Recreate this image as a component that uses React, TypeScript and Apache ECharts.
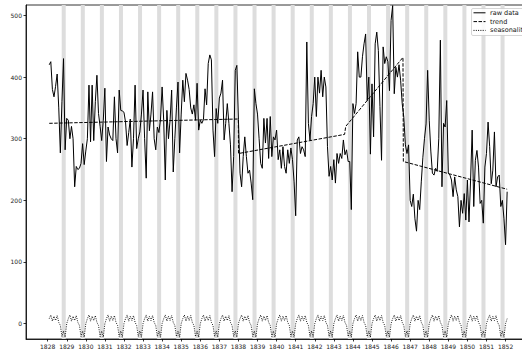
import React, { useEffect, useRef } from "react";
import * as echarts from "echarts";

// monthly observations, first point at START_YEAR, one step per month
const START_YEAR = 1828.08;
const raw1828 = [420, 425, 380, 368, 385, 405, 350, 277, 360, 430, 282, 333];
const raw1829 = [330, 300, 320, 300, 222, 255, 250, 252, 260, 292, 258, 280];
const raw1830 = [300, 387, 295, 387, 297, 360, 403, 341, 320, 297, 330, 382];
const raw1831 = [263, 319, 306, 300, 297, 368, 300, 277, 379, 346, 345, 343];
const raw1832 = [327, 289, 310, 332, 254, 300, 387, 284, 300, 311, 340, 379];
const raw1833 = [300, 236, 376, 313, 340, 376, 300, 282, 319, 310, 332, 384];
const raw1834 = [330, 233, 346, 300, 330, 379, 246, 300, 350, 392, 277, 340];
const raw1835 = [395, 360, 406, 395, 380, 350, 340, 355, 330, 390, 314, 330];
const raw1836 = [325, 331, 381, 355, 422, 436, 428, 314, 271, 349, 325, 366];
const raw1837 = [374, 395, 298, 325, 357, 325, 290, 214, 271, 411, 419, 331];
const raw1838 = [244, 222, 271, 303, 271, 244, 249, 228, 201, 381, 357, 340];
const raw1839 = [300, 260, 252, 333, 293, 333, 268, 336, 271, 303, 298, 314];
const raw1840 = [266, 282, 252, 287, 255, 244, 282, 260, 285, 266, 230, 175];
const raw1841 = [298, 303, 276, 287, 282, 271, 457, 325, 298, 336, 357, 400];
const raw1842 = [336, 400, 374, 411, 368, 400, 384, 287, 239, 255, 233, 266];
const raw1843 = [228, 276, 260, 276, 268, 298, 274, 282, 263, 263, 185, 357];
const raw1844 = [341, 357, 441, 400, 400, 433, 454, 470, 362, 400, 275, 389];
const raw1845 = [303, 454, 473, 443, 352, 265, 449, 422, 433, 425, 378, 492];
const raw1846 = [516, 373, 416, 400, 420, 395, 357, 335, 290, 276, 290, 200];
const raw1847 = [190, 210, 170, 150, 200, 185, 230, 270, 300, 324, 411, 330];
const raw1848 = [280, 244, 241, 252, 247, 300, 460, 222, 325, 319, 362, 244];
const raw1849 = [241, 233, 206, 238, 217, 206, 157, 200, 179, 211, 168, 233];
const raw1850 = [165, 233, 314, 190, 265, 281, 254, 195, 200, 163, 254, 276];
const raw1851 = [327, 287, 227, 249, 311, 222, 238, 241, 190, 200, 170, 128];
const raw1852 = [214];

const RAW = [
  ...raw1828, ...raw1829, ...raw1830, ...raw1831, ...raw1832, ...raw1833,
  ...raw1834, ...raw1835, ...raw1836, ...raw1837, ...raw1838, ...raw1839,
  ...raw1840, ...raw1841, ...raw1842, ...raw1843, ...raw1844, ...raw1845,
  ...raw1846, ...raw1847, ...raw1848, ...raw1849, ...raw1850, ...raw1851,
  ...raw1852,
];

// yearly seasonal component (one value per month)
const SEASONAL_PATTERN = [8, 14, 4, 12, 5, 13, 2, -3, -21, -12, -22, 0];

// piecewise trend breakpoints
const TREND_X = [1828.08, 1837.99, 1838.0, 1843.56, 1843.62, 1846.62, 1846.64, 1852.08];
const TREND_Y = [325, 332, 276, 307, 320, 432, 263, 218];

const YEAR_TICKS = [
  1828, 1829, 1830, 1831, 1832, 1833, 1834, 1835, 1836, 1837, 1838, 1839, 1840,
  1841, 1842, 1843, 1844, 1845, 1846, 1847, 1848, 1849, 1850, 1851, 1852,
];
const Y_TICKS = [0, 100, 200, 300, 400, 500];

const BAND_YEARS = [
  1828, 1829, 1830, 1831, 1832, 1833, 1834, 1835, 1836, 1837, 1838, 1839,
  1840, 1841, 1842, 1843, 1844, 1845, 1846, 1847, 1848, 1849, 1850, 1851,
];
const BAND_FROM = 0.735;
const BAND_TO = 0.945;

const LEGEND_LABELS = ["raw data", "trend", "seasonality"];

export default function App() {
  const ref = useRef<HTMLDivElement>(null);
  useEffect(() => {
    if (!ref.current) return;
    const chart = echarts.init(ref.current, null, { renderer: "svg" });
    const font = "DejaVu Sans";
    const rawData = RAW.map((v, i) => [START_YEAR + i / 12, v]);
    const seasData = RAW.map((_, i) => [START_YEAR + i / 12, SEASONAL_PATTERN[i % 12]]);
    const trendData = TREND_X.map((x, i) => [x, TREND_Y[i]]);
    const rowsY = [12.8, 21.6, 30.4];
    const dashes: any[] = [null, [3.5, 1.5], [1, 1.3]];
    const graphic: any[] = [
      {
        type: "rect",
        z: 100,
        shape: { x: 471.5, y: 8.5, width: 58, height: 27, r: 1.5 },
        style: { fill: "rgba(255,255,255,0.85)", stroke: "#cccccc", lineWidth: 0.8 },
      },
    ];
    LEGEND_LABELS.forEach((label, k) => {
      graphic.push({
        type: "line",
        z: 101,
        shape: { x1: 473.5, y1: rowsY[k], x2: 485.5, y2: rowsY[k] },
        style: { stroke: "#000", lineWidth: 1, lineDash: dashes[k] || undefined },
      });
      graphic.push({
        type: "text",
        z: 101,
        x: 490,
        y: rowsY[k],
        style: {
          text: label,
          fontSize: 6.5,
          fontFamily: font,
          fill: "#111",
          verticalAlign: "middle",
          textVerticalAlign: "middle",
        },
      });
    });

    chart.setOption({
      animation: false,
      grid: {
        left: 26,
        top: 5,
        right: 9,
        bottom: 10,
        show: true,
        borderColor: "#000",
        borderWidth: 0.8,
        backgroundColor: "transparent",
        containLabel: false,
        outerBoundsMode: "none",
      },
      xAxis: {
        type: "value",
        min: 1826.863,
        max: 1853.33,
        splitLine: { show: false },
        axisLine: { onZero: false, lineStyle: { color: "#000", width: 0.8 } },
        axisTick: { length: 2.5, customValues: YEAR_TICKS, lineStyle: { color: "#000", width: 0.8 } },
        axisLabel: {
          customValues: YEAR_TICKS,
          fontSize: 6,
          fontFamily: font,
          color: "#222",
          margin: 4,
          formatter: (v: number) => String(Math.round(v)),
        },
      },
      yAxis: {
        type: "value",
        min: -25,
        max: 517,
        splitLine: { show: false },
        axisLine: { onZero: false, lineStyle: { color: "#000", width: 0.8 } },
        axisTick: { length: 2.5, customValues: Y_TICKS, lineStyle: { color: "#000", width: 0.8 } },
        axisLabel: {
          customValues: Y_TICKS,
          fontSize: 6,
          fontFamily: font,
          color: "#222",
          margin: 4,
          formatter: (v: number) => String(Math.round(v)),
        },
      },
      series: [
        {
          type: "line",
          name: "bands",
          data: [],
          z: 1,
          silent: true,
          markArea: {
            silent: true,
            itemStyle: { color: "#dddddd" },
            data: BAND_YEARS.map((y) => [{ xAxis: y + BAND_FROM }, { xAxis: y + BAND_TO }]),
          },
        },
        {
          type: "line",
          name: "raw data",
          data: rawData,
          showSymbol: false,
          z: 3,
          lineStyle: { color: "#000", width: 1 },
        },
        {
          type: "line",
          name: "trend",
          data: trendData,
          showSymbol: false,
          z: 4,
          lineStyle: { color: "#000", width: 1, type: [3.5, 1.5] },
        },
        {
          type: "line",
          name: "seasonality",
          data: seasData,
          showSymbol: false,
          z: 4,
          lineStyle: { color: "#000", width: 0.9, type: [1, 1.3] },
        },
      ],
      graphic,
    });
    return () => chart.dispose();
  }, []);
  return (
    <div
      ref={ref}
      style={{ position: "fixed", left: 0, top: 0, width: 540, height: 349, background: "#fff" }}
    />
  );
}
